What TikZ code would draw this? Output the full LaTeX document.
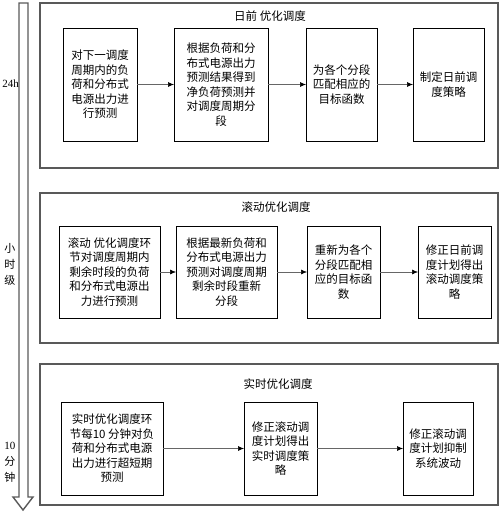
\documentclass[tikz,border=0pt]{standalone}
\usepackage{fontspec}
\usepackage{tikz}
\usetikzlibrary{arrows.meta}
\newfontfamily\cjk{Noto Sans CJK SC}
\newfontfamily\lat{Liberation Serif}

\begin{document}
\begin{tikzpicture}[x=1pt, y=-1pt,
  every node/.style={outer sep=0pt, inner sep=0pt},
  panel/.style={draw=black!65, line width=1.4pt},
  title/.style={font=\cjk\fontsize{11.5}{14}\selectfont},
  task/.style={draw=black, line width=0.9pt, align=center, font=\cjk\fontsize{11.5}{14.5}\selectfont},
  link/.style={draw=black!60, line width=0.6pt, -{Latex[black,length=6pt,width=5pt]}},
  side/.style={align=center, font=\cjk\fontsize{11}{16}\selectfont}]
\useasboundingbox (0,0) rectangle (500,512);

% time axis
\draw[black!65, line width=1.4pt] (19,3) -- (28,3) -- (28,497) -- (33,497) -- (23,510) -- (13,497) -- (19,497) -- cycle;
\node[font=\lat\fontsize{11}{13}\selectfont] (h24) at (10.5,84) {24h};
\node[side] (hour) at (10,264) {小\\时\\级};
\node[side] (min10) at (10,462) {{\lat 10}\\分\\钟};

% day-ahead
\draw[panel] (40,3) rectangle (498,168);
\node[title] (t1) at (270,16) {日前 优化调度};
\node[task, minimum width=74pt, minimum height=113pt] (b11) at (100,84.5) {对下一调度\\周期内的负\\荷和分布式\\电源出力进\\行预测};
\node[task, minimum width=94pt, minimum height=113pt] (b12) at (221,84.5) {根据负荷和分\\布式电源出力\\预测结果得到\\净负荷预测并\\对调度周期分\\段};
\node[task, minimum width=71pt, minimum height=113pt] (b13) at (341.5,84.5) {为各个分段\\匹配相应的\\目标函数};
\node[task, minimum width=71pt, minimum height=113pt] (b14) at (448.5,84.5) {制定日前调\\度策略};
\draw[link] (b11) -- (b12);
\draw[link] (b12) -- (b13);
\draw[link] (b13) -- (b14);

% rolling
\draw[panel] (40,193) rectangle (498,343);
\node[title] (t2) at (276,207) {滚动优化调度};
\node[task, minimum width=101pt, minimum height=92pt] (b21) at (109.5,272) {滚动 优化调度环\\节对调度周期内\\剩余时段的负荷\\和分布式电源出\\力进行预测};
\node[task, minimum width=101pt, minimum height=92pt] (b22) at (226.5,272) {根据最新负荷和\\分布式电源出力\\预测对调度周期\\剩余时段重新\\分段};
\node[task, minimum width=73pt, minimum height=92pt] (b23) at (343.5,272) {重新为各个\\分段匹配相\\应的目标函\\数};
\node[task, minimum width=73pt, minimum height=92pt] (b24) at (454.5,272) {修正日前调\\度计划得出\\滚动调度策\\略};
\draw[link] (b21) -- (b22);
\draw[link] (b22) -- (b23);
\draw[link] (b23) -- (b24);

% real-time
\draw[panel] (40,364) rectangle (498,505);
\node[title] (t3) at (278,384) {实时优化调度};
\node[task, minimum width=102pt, minimum height=93pt] (b31) at (112,448.5) {实时优化调度环\\节每10 分钟对负\\荷和分布式电源\\出力进行超短期\\预测};
\node[task, minimum width=73pt, minimum height=93pt] (b32) at (280.5,448.5) {修正滚动调\\度计划得出\\实时调度策\\略};
\node[task, minimum width=70pt, minimum height=93pt] (b33) at (438,448.5) {修正滚动调\\度计划抑制\\系统波动};
\draw[link] (b31) -- (b32);
\draw[link] (b32) -- (b33);
\end{tikzpicture}
\end{document}
